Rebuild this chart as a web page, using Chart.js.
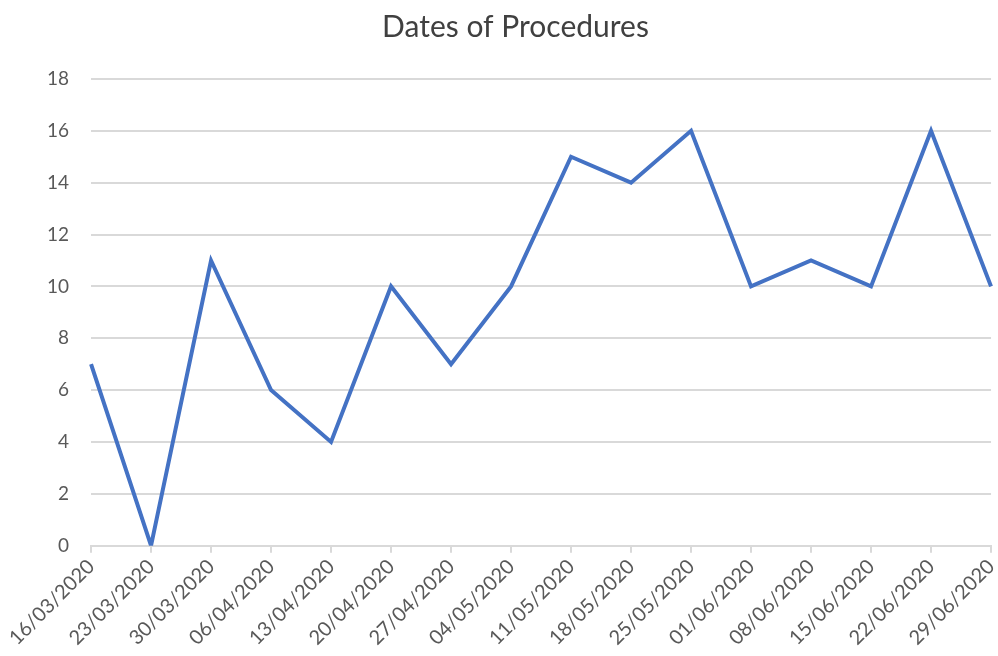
<!DOCTYPE html>
<html>
<head>
<meta charset="utf-8">
<script src="https://cdn.jsdelivr.net/npm/chart.js@4/dist/chart.umd.min.js"></script>
<style>
  html, body { margin: 0; padding: 0; background: #fff; overflow: hidden; }
  #wrap { width: 1010px; height: 656px; }
</style>
</head>
<body>
<div id="wrap"><canvas id="myChart"></canvas></div>
<script>
const weeks = ['16/03/2020', '23/03/2020', '30/03/2020', '06/04/2020', '13/04/2020', '20/04/2020',
  '27/04/2020', '04/05/2020', '11/05/2020', '18/05/2020', '25/05/2020', '01/06/2020',
  '08/06/2020', '15/06/2020', '22/06/2020', '29/06/2020'];
const procedures = [7, 0, 11, 6, 4, 10, 7, 10, 15, 14, 16, 10, 11, 10, 16, 10];
const yMin = 0, yMax = 18, yStep = 2;

const ctx = document.getElementById('myChart');

new Chart(ctx, {
  type: 'line',
  data: {
    labels: weeks,
    datasets: [{
      data: procedures,
      borderColor: '#4472c4',
      borderWidth: 4,
      pointRadius: 0,
      tension: 0,
      fill: false
    }]
  },
  options: {
    responsive: true,
    maintainAspectRatio: false,
    animation: false,
    layout: { padding: { left: 25, right: 4, top: 5, bottom: 4 } },
    plugins: {
      legend: { display: false },
      tooltip: { enabled: false },
      title: {
        display: true,
        text: 'Dates of Procedures',
        color: '#404040',
        font: { family: 'Lato', size: 30, weight: 'normal' },
        padding: { top: 4, bottom: 34 }
      }
    },
    scales: {
      x: {
        offset: false,
        grid: {
          drawOnChartArea: false,
          drawTicks: true,
          tickLength: 7,
          color: '#d9d9d9',
          lineWidth: 2
        },
        border: { display: true, color: '#d9d9d9', width: 2 },
        ticks: {
          color: '#595959',
          font: { family: 'Lato', size: 20 },
          minRotation: 45,
          maxRotation: 45,
          autoSkip: false,
          padding: 2
        }
      },
      y: {
        min: yMin,
        max: yMax,
        grid: { color: '#d9d9d9', lineWidth: 2, drawTicks: false },
        border: { display: false },
        ticks: {
          stepSize: yStep,
          color: '#595959',
          font: { family: 'Lato', size: 19 },
          padding: 22
        }
      }
    }
  }
});
</script>
</body>
</html>
